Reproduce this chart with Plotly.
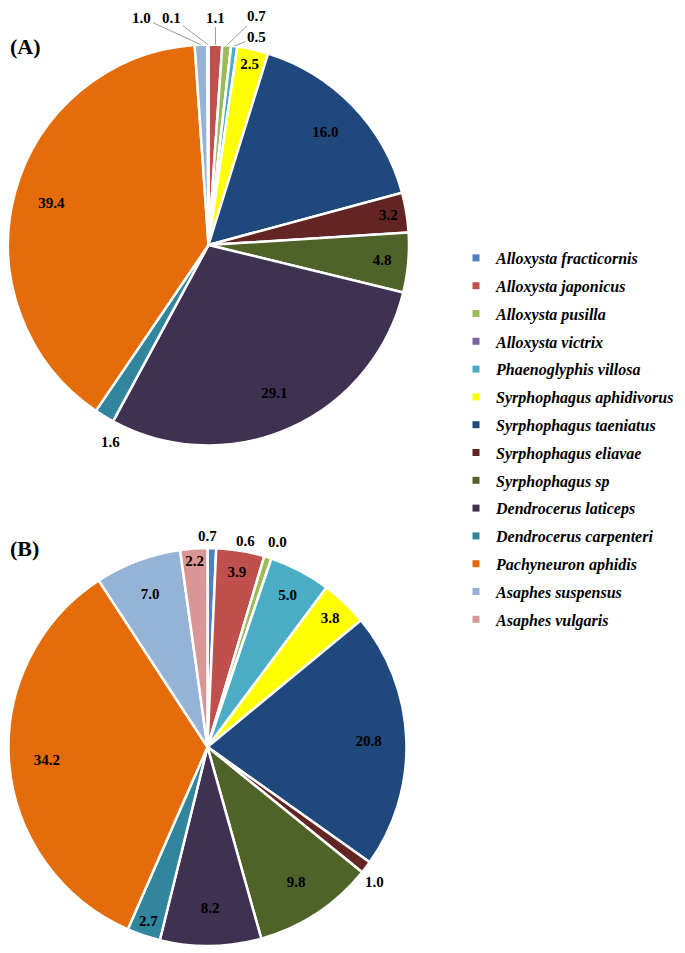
import math
import plotly.graph_objects as go

species = [
    "Alloxysta fracticornis", "Alloxysta japonicus", "Alloxysta pusilla",
    "Alloxysta victrix", "Phaenoglyphis villosa", "Syrphophagus aphidivorus",
    "Syrphophagus taeniatus", "Syrphophagus eliavae", "Syrphophagus sp",
    "Dendrocerus laticeps", "Dendrocerus carpenteri", "Pachyneuron aphidis",
    "Asaphes suspensus", "Asaphes vulgaris",
]
values_a = [0.0, 1.1, 0.7, 0.0, 0.5, 2.5, 16.0, 3.2, 4.8, 29.1, 1.6, 39.4, 1.0, 0.1]
values_b = [0.7, 3.9, 0.6, 0.0, 5.0, 3.8, 20.8, 1.0, 9.8, 8.2, 2.7, 34.2, 7.0, 2.2]
colors = [
    "#4F81BD", "#C0504D", "#9BBB59", "#8064A2", "#4BACC6", "#FFFF00",
    "#1F497D", "#632523", "#4F6228", "#3F3151", "#31859C", "#E46C0A",
    "#95B3D7", "#D99694",
]
panel_titles = ["(A)", "(B)"]

FONT = "Liberation Serif"
W, H = 685, 953
OFF = 8  # page offset of the plot div

# outside-label placement (pixel offset of the label from the slice's outer edge, leader line?)
outside_a = {
    "Asaphes suspensus": (-59, -27, True),
    "Asaphes vulgaris": (-36, -27, True),
    "Alloxysta japonicus": (0, -27, True),
    "Alloxysta pusilla": (30, -29, True),
    "Phaenoglyphis villosa": (22, -9, True),
    "Dendrocerus carpenteri": (6, 26, False),
}
outside_b = {
    "Alloxysta fracticornis": (-4, -12, False),
    "Alloxysta pusilla": (-22, -16, False),
    "Alloxysta victrix": (6, -17, False),
    "Syrphophagus eliavae": (9, 15, False),
}


def box(x0, x1, y0, y1):
    # pixel box in the reference -> pixel box in figure coordinates
    return (max(0, x0 - OFF), x1 - OFF, y0 - OFF, y1 - OFF)


box_a = box(8, 409, 43, 447)
box_b = box(8, 407, 548, 946)


def dom(b):
    x0, x1, y0, y1 = b
    return dict(x=[x0 / W, x1 / W], y=[1 - y1 / H, 1 - y0 / H])


fig = go.Figure()
annotations = []
for vals, b, outside, show_zero in [(values_a, box_a, outside_a, False),
                                    (values_b, box_b, outside_b, True)]:
    d = dom(b)
    inside_text = ["" if name in outside else f"{v:.1f}" for name, v in zip(species, vals)]
    fig.add_trace(go.Pie(
        labels=species, values=vals, sort=False, direction="clockwise",
        marker=dict(colors=colors, line=dict(color="white", width=2.5)),
        textinfo="none", domain=d, showlegend=False, hoverinfo="label+value",
    ))
    fig.add_trace(go.Pie(
        labels=species, values=vals, sort=False, direction="clockwise", hole=0.62,
        marker=dict(colors=["rgba(0,0,0,0)"] * len(vals), line=dict(width=0)),
        text=inside_text, textinfo="text", textposition="inside",
        insidetextorientation="horizontal",
        textfont=dict(family=FONT, size=15, color="black", weight="bold"),
        domain=d, showlegend=False, hoverinfo="skip",
    ))
    # outside labels anchored on the slice edge (angle from the data)
    x0, x1, y0, y1 = b
    cx, cy = (x0 + x1) / 2, (y0 + y1) / 2
    r = min(x1 - x0, y1 - y0) / 2
    total = sum(vals)
    cum = 0.0
    for name, v in zip(species, vals):
        mid = cum + v / 2
        cum += v
        if name not in outside:
            continue
        if v == 0 and not show_zero:
            continue
        dx, dy, line = outside[name]
        th = 2 * math.pi * mid / total
        px = cx + r * math.sin(th)
        py = cy - r * math.cos(th)
        annotations.append(dict(
            text=f"{v:.1f}", x=px / W, y=1 - py / H, xref="paper", yref="paper",
            ax=dx, ay=dy, showarrow=True, arrowhead=0, arrowwidth=1,
            arrowcolor="#9A9A9A" if line else "rgba(0,0,0,0)", standoff=0,
            font=dict(family=FONT, size=15, color="black", weight="bold"),
        ))

for name, col in zip(species, colors):
    fig.add_trace(go.Scatter(
        x=[None], y=[None], mode="markers", name=name, legendgroup=name,
        marker=dict(symbol="square", size=7, color=col),
        showlegend=True, hoverinfo="skip",
    ))

for title, ypix in zip(panel_titles, [47, 548]):
    annotations.append(dict(text=title, x=0, y=1 - (ypix - OFF) / H, xref="paper", yref="paper",
                            xanchor="left", yanchor="middle", showarrow=False,
                            font=dict(family=FONT, size=22, color="black", weight="bold")))

fig.update_layout(
    width=W, height=H,
    margin=dict(l=0, r=0, t=0, b=0, autoexpand=False),
    paper_bgcolor="white", plot_bgcolor="white",
    xaxis=dict(visible=False), yaxis=dict(visible=False),
    annotations=annotations,
    legend=dict(x=(456 - OFF) / W, y=1 - (241 - OFF) / H, xanchor="left", yanchor="top",
                font=dict(family=FONT, size=16, color="black", style="italic", weight="bold"),
                traceorder="grouped", tracegroupgap=4, itemclick=False,
                bgcolor="rgba(0,0,0,0)"),
)
fig.write_html("out.html")
